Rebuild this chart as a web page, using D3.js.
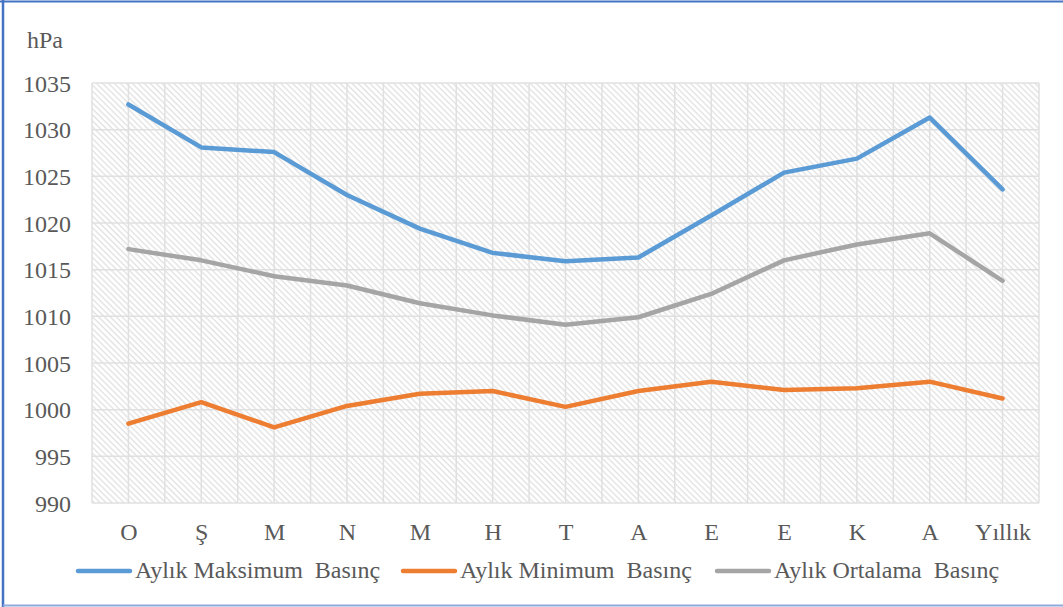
<!DOCTYPE html>
<html>
<head>
<meta charset="utf-8">
<script src="https://cdn.jsdelivr.net/npm/d3@7"></script>
<style>
  html, body { margin: 0; padding: 0; background: #fff; }
  svg { display: block; }
  text { font-family: "Liberation Serif", "Times New Roman", serif; fill: #595959; }
</style>
</head>
<body>
<svg id="chart" width="1063" height="607"></svg>
<script>
// Monthly pressure values (hPa)
const categories = ["O", "Ş", "M", "N", "M", "H", "T", "A", "E", "E", "K", "A", "Yıllık"];
const maxPressure = [1032.7, 1028.1, 1027.6, 1023.0, 1019.4, 1016.8, 1015.9, 1016.3, 1020.8, 1025.4, 1026.9, 1031.3, 1023.6];
const minPressure = [998.5, 1000.8, 998.1, 1000.4, 1001.7, 1002.0, 1000.3, 1002.0, 1003.0, 1002.1, 1002.3, 1003.0, 1001.2];
const meanPressure = [1017.2, 1016.0, 1014.3, 1013.3, 1011.4, 1010.1, 1009.1, 1009.9, 1012.4, 1016.0, 1017.7, 1018.9, 1013.8];
const yTicks = [990, 995, 1000, 1005, 1010, 1015, 1020, 1025, 1030, 1035];
const unitLabel = "hPa";

const series = [
  { name: "Aylık Maksimum  Basınç", values: maxPressure, color: "#5B9BD5" },
  { name: "Aylık Minimum  Basınç", values: minPressure, color: "#ED7D31" },
  { name: "Aylık Ortalama  Basınç", values: meanPressure, color: "#A5A5A5" }
];

const svg = d3.select("#chart");
const plot = { left: 92, right: 1039, top: 83, bottom: 503 };
const fontSize = 24;

// Hatched background for the plot area
const defs = svg.append("defs");
const tile = 4.2;
const pat = defs.append("pattern")
  .attr("id", "hatch")
  .attr("patternUnits", "userSpaceOnUse")
  .attr("width", tile).attr("height", tile)
  .attr("patternTransform", "rotate(-45)");
pat.append("rect").attr("width", tile).attr("height", tile).attr("fill", "#ffffff");
pat.append("line")
  .attr("x1", 1).attr("y1", 0).attr("x2", 1).attr("y2", tile)
  .attr("stroke", "#dcdcdc").attr("stroke-width", 1.1);

const xBand = d3.scaleBand().domain(d3.range(categories.length))
  .range([plot.left, plot.right]).paddingInner(0).paddingOuter(0);
const x = i => xBand(i) + xBand.bandwidth() / 2;
const y = d3.scaleLinear().domain([990, 1035]).range([plot.bottom, plot.top]);

svg.append("rect")
  .attr("x", plot.left).attr("y", plot.top)
  .attr("width", plot.right - plot.left).attr("height", plot.bottom - plot.top)
  .attr("fill", "url(#hatch)");

// Gridlines: horizontal at each tick, vertical at category edges and centres
const grid = svg.append("g").attr("stroke", "#e0e0e0").attr("stroke-width", 1.5);
grid.selectAll("line.h").data(yTicks).join("line")
  .attr("class", "h")
  .attr("x1", plot.left).attr("x2", plot.right)
  .attr("y1", d => y(d)).attr("y2", d => y(d));
const vPos = [];
categories.forEach((c, i) => { vPos.push(xBand(i)); vPos.push(x(i)); });
vPos.push(plot.right);
grid.selectAll("line.v").data(vPos).join("line")
  .attr("class", "v")
  .attr("y1", plot.top).attr("y2", plot.bottom)
  .attr("x1", d => d).attr("x2", d => d);

// Y axis labels
const yAxis = d3.axisLeft(y).tickValues(yTicks).tickSize(0).tickPadding(0)
  .tickFormat(d3.format("d"));
const yg = svg.append("g").attr("transform", `translate(71,0)`).call(yAxis);
yg.select(".domain").remove();
yg.selectAll("text")
  .attr("font-size", fontSize).attr("font-family", null)
  .attr("dy", "0.34em").style("fill", "#595959");

svg.append("text").attr("x", 27).attr("y", 48)
  .attr("font-size", fontSize).text(unitLabel);

// X axis labels
const xScale = d3.scalePoint().domain(d3.range(categories.length))
  .range([x(0), x(categories.length - 1)]);
const xAxis = d3.axisBottom(xScale).tickSize(0).tickPadding(0).tickFormat(i => categories[i]);
const xg = svg.append("g").attr("transform", `translate(0,540)`).call(xAxis);
xg.select(".domain").remove();
xg.selectAll("text")
  .attr("font-size", fontSize).attr("font-family", null)
  .attr("dy", 0).attr("y", 0).style("fill", "#595959");

// Series lines
const line = d3.line().x((d, i) => x(i)).y(d => y(d));
svg.append("g").selectAll("path").data(series).join("path")
  .attr("d", d => line(d.values))
  .attr("fill", "none")
  .attr("stroke", d => d.color)
  .attr("stroke-width", 4.5)
  .attr("stroke-linejoin", "round")
  .attr("stroke-linecap", "round");

// Legend
const legendX = [78, 403, 717];
const lg = svg.append("g").selectAll("g").data(series).join("g")
  .attr("transform", (d, i) => `translate(${legendX[i]},571)`);
lg.append("line").attr("x1", 0).attr("x2", 52).attr("y1", 0).attr("y2", 0)
  .attr("stroke", d => d.color).attr("stroke-width", 4.5).attr("stroke-linecap", "round");
lg.append("text").attr("x", 57).attr("y", 7)
  .attr("font-size", fontSize).style("white-space", "pre")
  .text(d => d.name);

// Frame
svg.append("line").attr("x1", 0).attr("x2", 1063).attr("y1", 1.5).attr("y2", 1.5)
  .attr("stroke", "#4472C4").attr("stroke-width", 2);
svg.append("line").attr("x1", 3).attr("x2", 3).attr("y1", 0).attr("y2", 607)
  .attr("stroke", "#4472C4").attr("stroke-width", 2.5);
svg.append("line").attr("x1", 3).attr("x2", 1063).attr("y1", 605.5).attr("y2", 605.5)
  .attr("stroke", "#8EAADB").attr("stroke-width", 2);
</script>
</body>
</html>
